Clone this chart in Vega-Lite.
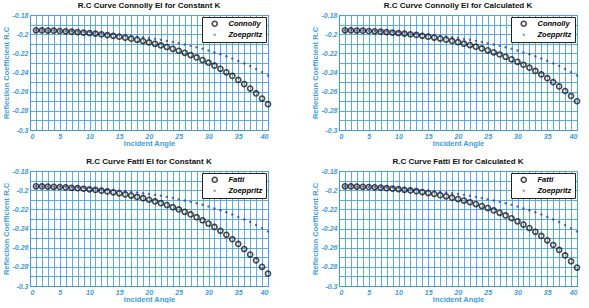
{
  "$schema": "https://vega.github.io/schema/vega-lite/v6.json",
  "padding": {"left": 1, "top": 1, "right": 2, "bottom": 0},
  "background": "white",
  "config": {
    "font": "Liberation Sans",
    "view": {"stroke": "#3f9ad6", "strokeWidth": 1},
    "axis": {
      "labelFont": "Liberation Sans", "labelFontSize": 7, "labelFontStyle": "italic", "labelFontWeight": "bold",
      "labelColor": "#3d9be0", "titleColor": "#3d9be0", "titleFont": "Liberation Sans", "titleFontSize": 7.5, "titleFontWeight": "bold",
      "gridColor": "#4ea3de", "gridOpacity": 0.9, "gridWidth": 1, "domainColor": "#3f9ad6", "ticks": false, "labelPadding": 2
    },
    "title": {"font": "Liberation Sans", "fontSize": 8, "fontWeight": "bold", "color": "#111111", "offset": 1},
    "legend": {
      "orient": "top-right", "offset": 2, "title": null, "strokeColor": "#222222", "fillColor": "white",
      "padding": 3, "cornerRadius": 0, "labelFont": "Liberation Sans", "labelFontSize": 7.5, "labelFontStyle": "italic",
      "labelFontWeight": "bold", "labelColor": "#000000", "symbolType": "circle", "rowPadding": 0, "labelOffset": 10, "symbolOffset": 6
    }
  },
  "datasets": {
    "p1": [
      {"a":1,"Connolly":-0.1960,"Zoeppritz":-0.1960},{"a":2,"Connolly":-0.1961,"Zoeppritz":-0.1961},{"a":3,"Connolly":-0.1962,"Zoeppritz":-0.1962},{"a":4,"Connolly":-0.1964,"Zoeppritz":-0.1963},{"a":5,"Connolly":-0.1967,"Zoeppritz":-0.1964},
      {"a":6,"Connolly":-0.1970,"Zoeppritz":-0.1966},{"a":7,"Connolly":-0.1974,"Zoeppritz":-0.1969},{"a":8,"Connolly":-0.1978,"Zoeppritz":-0.1972},{"a":9,"Connolly":-0.1983,"Zoeppritz":-0.1975},{"a":10,"Connolly":-0.1988,"Zoeppritz":-0.1978},
      {"a":11,"Connolly":-0.1994,"Zoeppritz":-0.1982},{"a":12,"Connolly":-0.2001,"Zoeppritz":-0.1987},{"a":13,"Connolly":-0.2009,"Zoeppritz":-0.1991},{"a":14,"Connolly":-0.2017,"Zoeppritz":-0.1997},{"a":15,"Connolly":-0.2027,"Zoeppritz":-0.2003},
      {"a":16,"Connolly":-0.2037,"Zoeppritz":-0.2009},{"a":17,"Connolly":-0.2047,"Zoeppritz":-0.2016},{"a":18,"Connolly":-0.2059,"Zoeppritz":-0.2023},{"a":19,"Connolly":-0.2072,"Zoeppritz":-0.2031},{"a":20,"Connolly":-0.2086,"Zoeppritz":-0.2040},
      {"a":21,"Connolly":-0.2101,"Zoeppritz":-0.2049},{"a":22,"Connolly":-0.2117,"Zoeppritz":-0.2059},{"a":23,"Connolly":-0.2134,"Zoeppritz":-0.2070},{"a":24,"Connolly":-0.2153,"Zoeppritz":-0.2082},{"a":25,"Connolly":-0.2173,"Zoeppritz":-0.2094},
      {"a":26,"Connolly":-0.2195,"Zoeppritz":-0.2108},{"a":27,"Connolly":-0.2218,"Zoeppritz":-0.2122},{"a":28,"Connolly":-0.2243,"Zoeppritz":-0.2137},{"a":29,"Connolly":-0.2270,"Zoeppritz":-0.2153},{"a":30,"Connolly":-0.2298,"Zoeppritz":-0.2171},
      {"a":31,"Connolly":-0.2329,"Zoeppritz":-0.2190},{"a":32,"Connolly":-0.2362,"Zoeppritz":-0.2210},{"a":33,"Connolly":-0.2398,"Zoeppritz":-0.2231},{"a":34,"Connolly":-0.2436,"Zoeppritz":-0.2254},{"a":35,"Connolly":-0.2477,"Zoeppritz":-0.2279},
      {"a":36,"Connolly":-0.2521,"Zoeppritz":-0.2305},{"a":37,"Connolly":-0.2568,"Zoeppritz":-0.2333},{"a":38,"Connolly":-0.2618,"Zoeppritz":-0.2363},{"a":39,"Connolly":-0.2672,"Zoeppritz":-0.2396},{"a":40,"Connolly":-0.2731,"Zoeppritz":-0.2430}
    ],
    "p2": [
      {"a":1,"Connolly":-0.1960,"Zoeppritz":-0.1960},{"a":2,"Connolly":-0.1961,"Zoeppritz":-0.1961},{"a":3,"Connolly":-0.1962,"Zoeppritz":-0.1962},{"a":4,"Connolly":-0.1964,"Zoeppritz":-0.1963},{"a":5,"Connolly":-0.1967,"Zoeppritz":-0.1964},
      {"a":6,"Connolly":-0.1970,"Zoeppritz":-0.1966},{"a":7,"Connolly":-0.1974,"Zoeppritz":-0.1969},{"a":8,"Connolly":-0.1978,"Zoeppritz":-0.1972},{"a":9,"Connolly":-0.1983,"Zoeppritz":-0.1975},{"a":10,"Connolly":-0.1988,"Zoeppritz":-0.1978},
      {"a":11,"Connolly":-0.1994,"Zoeppritz":-0.1982},{"a":12,"Connolly":-0.2001,"Zoeppritz":-0.1987},{"a":13,"Connolly":-0.2008,"Zoeppritz":-0.1991},{"a":14,"Connolly":-0.2017,"Zoeppritz":-0.1997},{"a":15,"Connolly":-0.2026,"Zoeppritz":-0.2003},
      {"a":16,"Connolly":-0.2036,"Zoeppritz":-0.2009},{"a":17,"Connolly":-0.2046,"Zoeppritz":-0.2016},{"a":18,"Connolly":-0.2058,"Zoeppritz":-0.2023},{"a":19,"Connolly":-0.2070,"Zoeppritz":-0.2031},{"a":20,"Connolly":-0.2084,"Zoeppritz":-0.2040},
      {"a":21,"Connolly":-0.2099,"Zoeppritz":-0.2049},{"a":22,"Connolly":-0.2114,"Zoeppritz":-0.2059},{"a":23,"Connolly":-0.2131,"Zoeppritz":-0.2070},{"a":24,"Connolly":-0.2149,"Zoeppritz":-0.2082},{"a":25,"Connolly":-0.2169,"Zoeppritz":-0.2094},
      {"a":26,"Connolly":-0.2189,"Zoeppritz":-0.2108},{"a":27,"Connolly":-0.2212,"Zoeppritz":-0.2122},{"a":28,"Connolly":-0.2236,"Zoeppritz":-0.2137},{"a":29,"Connolly":-0.2262,"Zoeppritz":-0.2153},{"a":30,"Connolly":-0.2289,"Zoeppritz":-0.2171},
      {"a":31,"Connolly":-0.2319,"Zoeppritz":-0.2190},{"a":32,"Connolly":-0.2350,"Zoeppritz":-0.2210},{"a":33,"Connolly":-0.2384,"Zoeppritz":-0.2231},{"a":34,"Connolly":-0.2420,"Zoeppritz":-0.2254},{"a":35,"Connolly":-0.2459,"Zoeppritz":-0.2279},
      {"a":36,"Connolly":-0.2501,"Zoeppritz":-0.2305},{"a":37,"Connolly":-0.2545,"Zoeppritz":-0.2333},{"a":38,"Connolly":-0.2593,"Zoeppritz":-0.2363},{"a":39,"Connolly":-0.2645,"Zoeppritz":-0.2396},{"a":40,"Connolly":-0.2700,"Zoeppritz":-0.2430}
    ],
    "p3": [
      {"a":1,"Fatti":-0.1960,"Zoeppritz":-0.1960},{"a":2,"Fatti":-0.1961,"Zoeppritz":-0.1961},{"a":3,"Fatti":-0.1963,"Zoeppritz":-0.1962},{"a":4,"Fatti":-0.1965,"Zoeppritz":-0.1963},{"a":5,"Fatti":-0.1967,"Zoeppritz":-0.1964},
      {"a":6,"Fatti":-0.1971,"Zoeppritz":-0.1966},{"a":7,"Fatti":-0.1975,"Zoeppritz":-0.1969},{"a":8,"Fatti":-0.1979,"Zoeppritz":-0.1972},{"a":9,"Fatti":-0.1985,"Zoeppritz":-0.1975},{"a":10,"Fatti":-0.1991,"Zoeppritz":-0.1978},
      {"a":11,"Fatti":-0.1997,"Zoeppritz":-0.1982},{"a":12,"Fatti":-0.2005,"Zoeppritz":-0.1987},{"a":13,"Fatti":-0.2013,"Zoeppritz":-0.1991},{"a":14,"Fatti":-0.2023,"Zoeppritz":-0.1997},{"a":15,"Fatti":-0.2033,"Zoeppritz":-0.2003},
      {"a":16,"Fatti":-0.2044,"Zoeppritz":-0.2009},{"a":17,"Fatti":-0.2056,"Zoeppritz":-0.2016},{"a":18,"Fatti":-0.2070,"Zoeppritz":-0.2023},{"a":19,"Fatti":-0.2084,"Zoeppritz":-0.2031},{"a":20,"Fatti":-0.2100,"Zoeppritz":-0.2040},
      {"a":21,"Fatti":-0.2117,"Zoeppritz":-0.2049},{"a":22,"Fatti":-0.2136,"Zoeppritz":-0.2059},{"a":23,"Fatti":-0.2156,"Zoeppritz":-0.2070},{"a":24,"Fatti":-0.2177,"Zoeppritz":-0.2082},{"a":25,"Fatti":-0.2201,"Zoeppritz":-0.2094},
      {"a":26,"Fatti":-0.2226,"Zoeppritz":-0.2108},{"a":27,"Fatti":-0.2253,"Zoeppritz":-0.2122},{"a":28,"Fatti":-0.2282,"Zoeppritz":-0.2137},{"a":29,"Fatti":-0.2314,"Zoeppritz":-0.2153},{"a":30,"Fatti":-0.2348,"Zoeppritz":-0.2171},
      {"a":31,"Fatti":-0.2384,"Zoeppritz":-0.2190},{"a":32,"Fatti":-0.2424,"Zoeppritz":-0.2210},{"a":33,"Fatti":-0.2466,"Zoeppritz":-0.2231},{"a":34,"Fatti":-0.2512,"Zoeppritz":-0.2254},{"a":35,"Fatti":-0.2561,"Zoeppritz":-0.2279},
      {"a":36,"Fatti":-0.2614,"Zoeppritz":-0.2305},{"a":37,"Fatti":-0.2672,"Zoeppritz":-0.2333},{"a":38,"Fatti":-0.2733,"Zoeppritz":-0.2363},{"a":39,"Fatti":-0.2800,"Zoeppritz":-0.2396},{"a":40,"Fatti":-0.2871,"Zoeppritz":-0.2430}
    ],
    "p4": [
      {"a":1,"Fatti":-0.1960,"Zoeppritz":-0.1960},{"a":2,"Fatti":-0.1961,"Zoeppritz":-0.1961},{"a":3,"Fatti":-0.1963,"Zoeppritz":-0.1962},{"a":4,"Fatti":-0.1965,"Zoeppritz":-0.1963},{"a":5,"Fatti":-0.1967,"Zoeppritz":-0.1964},
      {"a":6,"Fatti":-0.1970,"Zoeppritz":-0.1966},{"a":7,"Fatti":-0.1974,"Zoeppritz":-0.1969},{"a":8,"Fatti":-0.1979,"Zoeppritz":-0.1972},{"a":9,"Fatti":-0.1984,"Zoeppritz":-0.1975},{"a":10,"Fatti":-0.1989,"Zoeppritz":-0.1978},
      {"a":11,"Fatti":-0.1996,"Zoeppritz":-0.1982},{"a":12,"Fatti":-0.2003,"Zoeppritz":-0.1987},{"a":13,"Fatti":-0.2011,"Zoeppritz":-0.1991},{"a":14,"Fatti":-0.2020,"Zoeppritz":-0.1997},{"a":15,"Fatti":-0.2030,"Zoeppritz":-0.2003},
      {"a":16,"Fatti":-0.2040,"Zoeppritz":-0.2009},{"a":17,"Fatti":-0.2052,"Zoeppritz":-0.2016},{"a":18,"Fatti":-0.2064,"Zoeppritz":-0.2023},{"a":19,"Fatti":-0.2078,"Zoeppritz":-0.2031},{"a":20,"Fatti":-0.2093,"Zoeppritz":-0.2040},
      {"a":21,"Fatti":-0.2109,"Zoeppritz":-0.2049},{"a":22,"Fatti":-0.2126,"Zoeppritz":-0.2059},{"a":23,"Fatti":-0.2145,"Zoeppritz":-0.2070},{"a":24,"Fatti":-0.2166,"Zoeppritz":-0.2082},{"a":25,"Fatti":-0.2187,"Zoeppritz":-0.2094},
      {"a":26,"Fatti":-0.2211,"Zoeppritz":-0.2108},{"a":27,"Fatti":-0.2236,"Zoeppritz":-0.2122},{"a":28,"Fatti":-0.2264,"Zoeppritz":-0.2137},{"a":29,"Fatti":-0.2293,"Zoeppritz":-0.2153},{"a":30,"Fatti":-0.2325,"Zoeppritz":-0.2171},
      {"a":31,"Fatti":-0.2359,"Zoeppritz":-0.2190},{"a":32,"Fatti":-0.2395,"Zoeppritz":-0.2210},{"a":33,"Fatti":-0.2435,"Zoeppritz":-0.2231},{"a":34,"Fatti":-0.2477,"Zoeppritz":-0.2254},{"a":35,"Fatti":-0.2523,"Zoeppritz":-0.2279},
      {"a":36,"Fatti":-0.2572,"Zoeppritz":-0.2305},{"a":37,"Fatti":-0.2624,"Zoeppritz":-0.2333},{"a":38,"Fatti":-0.2681,"Zoeppritz":-0.2363},{"a":39,"Fatti":-0.2742,"Zoeppritz":-0.2396},{"a":40,"Fatti":-0.2808,"Zoeppritz":-0.2430}
    ]
  },
  "columns": 2,
  "spacing": {"row": 10, "column": 35},
  "resolve": {"scale": {"fill": "independent", "stroke": "independent", "size": "independent", "strokeWidth": "independent"}},
  "concat": [
    {
      "title": "R.C Curve Connolly EI for Constant K",
      "width": 238, "height": 115,
      "data": {"name": "p1"},
      "transform": [{"fold": ["Connolly", "Zoeppritz"], "as": ["s", "v"]}],
      "mark": {"type": "point", "shape": "circle", "filled": true},
      "encoding": {
        "x": {"field": "a", "type": "quantitative", "scale": {"domain": [0, 40], "nice": false},
          "axis": {"title": "Incident Angle", "titlePadding": 0, "values": [0,1,2,3,4,5,6,7,8,9,10,11,12,13,14,15,16,17,18,19,20,21,22,23,24,25,26,27,28,29,30,31,32,33,34,35,36,37,38,39,40], "labelExpr": "datum.value % 5 === 0 ? datum.label : ''"}},
        "y": {"field": "v", "type": "quantitative", "scale": {"domain": [-0.3, -0.18], "nice": false, "zero": false},
          "axis": {"title": "Reflection Coefficient R.C", "titlePadding": 2, "values": [-0.3,-0.29,-0.28,-0.27,-0.26,-0.25,-0.24,-0.23,-0.22,-0.21,-0.2,-0.19,-0.18], "labelExpr": "round(datum.value*100) % 2 === 0 ? ('' + datum.value) : ''"}},
        "fill": {"field": "s", "type": "nominal", "scale": {"domain": ["Connolly", "Zoeppritz"], "range": ["transparent", "#2233aa"]}},
        "stroke": {"field": "s", "type": "nominal", "scale": {"domain": ["Connolly", "Zoeppritz"], "range": ["#000000", "#2233aa"]}},
        "size": {"field": "s", "type": "nominal", "scale": {"domain": ["Connolly", "Zoeppritz"], "range": [26, 6]}},
        "strokeWidth": {"field": "s", "type": "nominal", "scale": {"domain": ["Connolly", "Zoeppritz"], "range": [1.6, 0]}}
      }
    },
    {
      "title": "R.C Curve Connolly EI for Calculated K",
      "width": 238, "height": 115,
      "data": {"name": "p2"},
      "transform": [{"fold": ["Connolly", "Zoeppritz"], "as": ["s", "v"]}],
      "mark": {"type": "point", "shape": "circle", "filled": true},
      "encoding": {
        "x": {"field": "a", "type": "quantitative", "scale": {"domain": [0, 40], "nice": false},
          "axis": {"title": "Incident Angle", "titlePadding": 0, "values": [0,1,2,3,4,5,6,7,8,9,10,11,12,13,14,15,16,17,18,19,20,21,22,23,24,25,26,27,28,29,30,31,32,33,34,35,36,37,38,39,40], "labelExpr": "datum.value % 5 === 0 ? datum.label : ''"}},
        "y": {"field": "v", "type": "quantitative", "scale": {"domain": [-0.3, -0.18], "nice": false, "zero": false},
          "axis": {"title": "Reflection Coefficient R.C", "titlePadding": 2, "values": [-0.3,-0.29,-0.28,-0.27,-0.26,-0.25,-0.24,-0.23,-0.22,-0.21,-0.2,-0.19,-0.18], "labelExpr": "round(datum.value*100) % 2 === 0 ? ('' + datum.value) : ''"}},
        "fill": {"field": "s", "type": "nominal", "scale": {"domain": ["Connolly", "Zoeppritz"], "range": ["transparent", "#2233aa"]}},
        "stroke": {"field": "s", "type": "nominal", "scale": {"domain": ["Connolly", "Zoeppritz"], "range": ["#000000", "#2233aa"]}},
        "size": {"field": "s", "type": "nominal", "scale": {"domain": ["Connolly", "Zoeppritz"], "range": [26, 6]}},
        "strokeWidth": {"field": "s", "type": "nominal", "scale": {"domain": ["Connolly", "Zoeppritz"], "range": [1.6, 0]}}
      }
    },
    {
      "title": "R.C Curve Fatti EI for Constant K",
      "width": 238, "height": 115,
      "data": {"name": "p3"},
      "transform": [{"fold": ["Fatti", "Zoeppritz"], "as": ["s", "v"]}],
      "mark": {"type": "point", "shape": "circle", "filled": true},
      "encoding": {
        "x": {"field": "a", "type": "quantitative", "scale": {"domain": [0, 40], "nice": false},
          "axis": {"title": "Incident Angle", "titlePadding": 0, "values": [0,1,2,3,4,5,6,7,8,9,10,11,12,13,14,15,16,17,18,19,20,21,22,23,24,25,26,27,28,29,30,31,32,33,34,35,36,37,38,39,40], "labelExpr": "datum.value % 5 === 0 ? datum.label : ''"}},
        "y": {"field": "v", "type": "quantitative", "scale": {"domain": [-0.3, -0.18], "nice": false, "zero": false},
          "axis": {"title": "Reflection Coefficient R.C", "titlePadding": 2, "values": [-0.3,-0.29,-0.28,-0.27,-0.26,-0.25,-0.24,-0.23,-0.22,-0.21,-0.2,-0.19,-0.18], "labelExpr": "round(datum.value*100) % 2 === 0 ? ('' + datum.value) : ''"}},
        "fill": {"field": "s", "type": "nominal", "scale": {"domain": ["Fatti", "Zoeppritz"], "range": ["transparent", "#2233aa"]}},
        "stroke": {"field": "s", "type": "nominal", "scale": {"domain": ["Fatti", "Zoeppritz"], "range": ["#000000", "#2233aa"]}},
        "size": {"field": "s", "type": "nominal", "scale": {"domain": ["Fatti", "Zoeppritz"], "range": [26, 6]}},
        "strokeWidth": {"field": "s", "type": "nominal", "scale": {"domain": ["Fatti", "Zoeppritz"], "range": [1.6, 0]}}
      }
    },
    {
      "title": "R.C Curve Fatti EI for Calculated K",
      "width": 238, "height": 115,
      "data": {"name": "p4"},
      "transform": [{"fold": ["Fatti", "Zoeppritz"], "as": ["s", "v"]}],
      "mark": {"type": "point", "shape": "circle", "filled": true},
      "encoding": {
        "x": {"field": "a", "type": "quantitative", "scale": {"domain": [0, 40], "nice": false},
          "axis": {"title": "Incident Angle", "titlePadding": 0, "values": [0,1,2,3,4,5,6,7,8,9,10,11,12,13,14,15,16,17,18,19,20,21,22,23,24,25,26,27,28,29,30,31,32,33,34,35,36,37,38,39,40], "labelExpr": "datum.value % 5 === 0 ? datum.label : ''"}},
        "y": {"field": "v", "type": "quantitative", "scale": {"domain": [-0.3, -0.18], "nice": false, "zero": false},
          "axis": {"title": "Reflection Coefficient R.C", "titlePadding": 2, "values": [-0.3,-0.29,-0.28,-0.27,-0.26,-0.25,-0.24,-0.23,-0.22,-0.21,-0.2,-0.19,-0.18], "labelExpr": "round(datum.value*100) % 2 === 0 ? ('' + datum.value) : ''"}},
        "fill": {"field": "s", "type": "nominal", "scale": {"domain": ["Fatti", "Zoeppritz"], "range": ["transparent", "#2233aa"]}},
        "stroke": {"field": "s", "type": "nominal", "scale": {"domain": ["Fatti", "Zoeppritz"], "range": ["#000000", "#2233aa"]}},
        "size": {"field": "s", "type": "nominal", "scale": {"domain": ["Fatti", "Zoeppritz"], "range": [26, 6]}},
        "strokeWidth": {"field": "s", "type": "nominal", "scale": {"domain": ["Fatti", "Zoeppritz"], "range": [1.6, 0]}}
      }
    }
  ]
}
